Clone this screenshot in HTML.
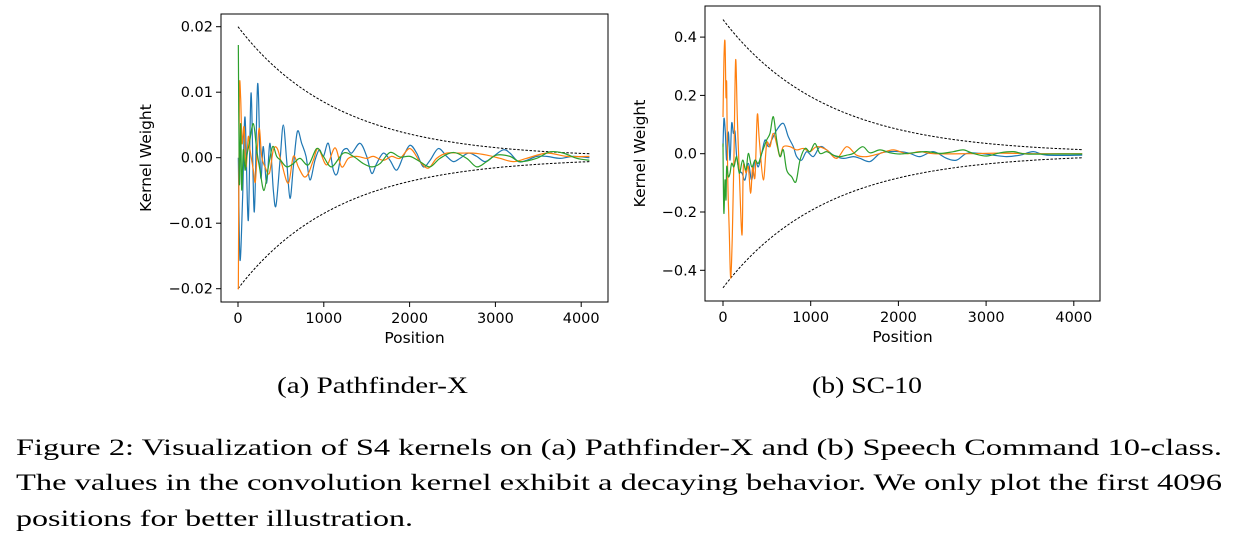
<!DOCTYPE html>
<html><head><meta charset="utf-8"><style>
html,body{margin:0;padding:0;background:#fff;}
svg{display:block;}
.tk{font-family:"DejaVu Sans","Liberation Sans",sans-serif;font-size:14.5px;fill:#000;}
.lb{font-family:"DejaVu Sans","Liberation Sans",sans-serif;font-size:15.5px;fill:#000;}
.cap{font-family:"Liberation Serif",serif;font-size:23px;fill:#000;}
</style></head><body>
<svg id="fig" width="1236" height="549" viewBox="0 0 1236 549">
<g id="pa"></g>
<g id="pb"></g>
<text class="cap" x="277" y="393" textLength="191" lengthAdjust="spacingAndGlyphs">(a) Pathfinder-X</text>
<text class="cap" x="812" y="393" textLength="110" lengthAdjust="spacingAndGlyphs">(b) SC-10</text>
<text class="cap" x="16" y="455" textLength="1206" lengthAdjust="spacingAndGlyphs">Figure 2:  Visualization of S4 kernels on (a) Pathfinder-X and (b) Speech Command 10-class.</text>
<text class="cap" x="16" y="490" textLength="1206" lengthAdjust="spacingAndGlyphs">The values in the convolution kernel exhibit a decaying behavior.  We only plot the first 4096</text>
<text class="cap" x="16" y="526" textLength="397" lengthAdjust="spacingAndGlyphs">positions for better illustration.</text>
</svg>
<script>
// ---- Chart A: Pathfinder-X (values in units of 1e-3) ----
const aXTicks = [0,1000,2000,3000,4000];
const aYTicks = [0.02,0.01,0.0,-0.01,-0.02];
const aYTickLabels = ["0.02","0.01","0.00","\u22120.01","\u22120.02"];
const aEnvAmp = 0.02, aEnvTau = 1170;
const aBlueX = [4,23,54,82,120,152,190,229,264,295,334,373,412,443,490,528,567,606,645,692,742,793,839,897,948,995,1053,1111,1158,1208,1267,1325,1422,1500,1558,1616,1694,1772,1849,1927,2005,2082,2160,2238,2335,2432,2510,2587,2685,2782,2879,2976,3092,3170,3267,3364,3481,3598,3753,3908,4096];
const aBlueY = [0,-15.6,-6.0,6.2,-9.6,9.9,-8.3,11.3,-2.9,1.7,-3.9,2.2,-5.0,-7.3,-0.4,5.0,-0.4,-6.2,-1.4,4.0,2.2,0.2,-3.4,-0.4,1.2,0.2,2.2,-1.9,-2.4,0.7,1.4,0.7,2.2,0.2,-2.4,-0.9,0.7,-0.4,-1.9,0.2,1.9,0.7,-1.4,-0.4,1.4,0.2,-0.6,-0.1,0.7,0.2,-0.6,0.2,1.2,0.7,-0.6,-0.4,0.2,0.2,-0.1,0.2,0];
const aOrangeX = [4,16,31,47,70,93,120,140,179,202,225,249,276,315,365,412,458,509,587,645,703,769,820,878,936,1033,1131,1208,1286,1383,1500,1577,1694,1791,1888,2005,2121,2218,2315,2432,2587,2743,2898,3053,3209,3364,3598,3831,4096];
const aOrangeY = [-20.1,9.4,9.1,2.2,4.7,-1.4,3.2,1.2,-1.9,-3.7,1.2,4.5,0.2,-1.4,-2.4,1.2,1.4,-0.9,-3.9,0.2,-1.4,-2.9,-2.4,-0.4,1.4,-1.1,1.5,-1.4,-0.1,0.2,-0.1,0.2,-0.4,0.2,-0.1,1.4,-0.6,-1.6,-0.1,0.7,0.7,0.7,0.4,-0.1,-0.6,-0.1,0.7,0.2,0.2];
const aGreenX = [4,16,31,43,62,82,101,132,179,218,256,303,354,404,451,497,567,645,723,820,917,995,1092,1228,1344,1461,1558,1655,1772,1888,2005,2121,2238,2354,2510,2665,2782,2898,3015,3170,3287,3481,3636,3792,3948,4096];
const aGreenY = [17.2,-3.9,5.2,-4.9,1.2,-1.9,0.2,2.2,5.2,1.2,-1.9,-5.0,-1.4,1.7,0.2,-0.4,-1.4,-0.9,-0.1,-1.1,1.4,0.2,-1.4,0.7,0.2,-0.9,-1.4,-0.9,0.8,0.1,0.2,-0.6,-1.4,-0.1,0.8,-0.1,-1.4,-0.6,0.4,0.2,-0.6,-0.1,0.9,0.7,-0.1,-0.4];

// ---- Chart B: SC-10 ----
const bXTicks = [0,1000,2000,3000,4000];
const bYTicks = [0.4,0.2,0.0,-0.2,-0.4];
const bYTickLabels = ["0.4","0.2","0.0","\u22120.2","\u22120.4"];
const bEnvAmp = 0.46, bEnvTau = 1170;
const bBlueX = [0,11,27,42,61,80,99,118,137,156,186,217,251,289,327,365,403,441,479,517,555,612,688,745,802,840,897,954,1030,1106,1182,1258,1372,1486,1562,1676,1790,1904,2018,2132,2246,2398,2550,2664,2778,2930,3082,3234,3386,3538,3690,4096];
const bBlueY = [0.024,0.121,0.070,-0.022,0.075,-0.022,0.104,0.070,0.075,-0.010,-0.056,-0.067,-0.090,-0.033,-0.090,-0.022,-0.045,0.001,0.047,0.024,0.047,0.081,0.104,0.058,0.024,-0.010,-0.022,0.007,-0.010,0.024,0.013,-0.005,-0.016,-0.010,-0.016,-0.027,0.001,0.007,0.007,0.001,-0.010,0.007,-0.016,-0.022,0.001,0.001,-0.005,-0.010,-0.005,0.007,-0.005,-0.005];
const bOrangeX = [0,11,23,34,42,53,72,87,106,125,144,163,186,217,232,262,289,315,338,365,391,414,460,498,536,574,619,650,688,764,840,916,992,1068,1182,1296,1410,1524,1638,1790,1942,2094,2246,2398,2778,3158,3538,4096];
const bOrangeY = [0.126,0.326,0.383,0.195,0.240,-0.067,-0.272,-0.427,-0.284,-0.010,0.321,0.126,-0.067,-0.279,-0.045,-0.067,-0.045,-0.136,-0.045,-0.079,0.133,0.047,-0.090,0.035,0.024,0.070,0.024,-0.010,0.024,0.024,0.013,0.018,0.007,0.024,0.013,-0.016,0.024,-0.005,-0.010,0.001,0.013,0,0.007,0,0,0.002,0,0];
const bGreenX = [0,4,11,23,34,42,61,80,99,125,156,186,224,262,289,327,365,403,441,498,536,574,612,650,688,726,783,832,878,935,992,1049,1106,1182,1258,1334,1410,1486,1592,1676,1790,1904,2018,2170,2322,2474,2626,2740,2854,3006,3158,3310,3462,3842,4096];
const bGreenY = [0.035,-0.102,-0.205,-0.090,-0.159,-0.045,-0.079,-0.067,-0.033,-0.045,-0.010,-0.067,-0.022,-0.056,0.001,-0.045,-0.022,-0.033,0.001,0.047,0.070,0.127,0.047,-0.010,0.013,-0.056,-0.079,-0.096,-0.022,0.018,0.007,0.035,0.001,0.007,-0.005,-0.010,-0.005,0.001,0.024,0.003,0.013,0.003,-0.001,0.003,0.007,0.001,0.007,0.013,0.001,-0.008,0.003,0.007,-0.001,-0.001,-0.001];

const NS = "http://www.w3.org/2000/svg";
function mk(parent, tag, attrs){
  const e = document.createElementNS(NS, tag);
  for (const k in attrs) e.setAttribute(k, attrs[k]);
  parent.appendChild(e);
  return e;
}
function smooth(pts){
  let d = "M" + pts[0][0].toFixed(2) + "," + pts[0][1].toFixed(2);
  for (let i=0;i<pts.length-1;i++){
    const p0 = pts[Math.max(0,i-1)], p1 = pts[i], p2 = pts[i+1], p3 = pts[Math.min(pts.length-1,i+2)];
    const c1x = p1[0]+(p2[0]-p0[0])/6, c1y = p1[1]+(p2[1]-p0[1])/6;
    const c2x = p2[0]-(p3[0]-p1[0])/6, c2y = p2[1]-(p3[1]-p1[1])/6;
    d += " C"+c1x.toFixed(2)+","+c1y.toFixed(2)+" "+c2x.toFixed(2)+","+c2y.toFixed(2)+" "+p2[0].toFixed(2)+","+p2[1].toFixed(2);
  }
  return d;
}
function drawChart(g, cfg){
  const sx = v => cfg.x0 + v*cfg.kx;
  const sy = v => cfg.y0 - v*cfg.ky;
  for (const s of [1,-1]){
    const pts=[];
    for (let t=0;t<=4096;t+=32) pts.push([sx(t), sy(s*cfg.amp*Math.exp(-t/cfg.tau))]);
    const e = mk(g,"path",{d:smooth(pts),fill:"none",stroke:"#000","stroke-width":"1","stroke-dasharray":"2.5,1.6"});
    
    
  }
  const series = [["kernel-blue","#1f77b4",cfg.bx,cfg.by],["kernel-orange","#ff7f0e",cfg.ox,cfg.oy],["kernel-green","#2ca02c",cfg.gx,cfg.gy]];
  for (const [name,col,xs,ys] of series){
    const pts = xs.map((x,i)=>[sx(x), sy(ys[i]*cfg.scale)]);
    const e = mk(g,"path",{d:smooth(pts),fill:"none",stroke:col,"stroke-width":"1.2"});
    
    
  }
  const fr = mk(g,"rect",{x:cfg.L,y:cfg.T,width:cfg.R-cfg.L,height:cfg.B-cfg.T,fill:"none",stroke:"#000","stroke-width":"1"});
  
  
  cfg.xt.forEach(v=>{
    mk(g,"line",{x1:sx(v),x2:sx(v),y1:cfg.B,y2:cfg.B+5,stroke:"#000"});
    const t = mk(g,"text",{class:"tk",x:sx(v),y:cfg.B+21,"text-anchor":"middle"});
    t.textContent = String(v);
    
    
  });
  cfg.yt.forEach((v,i)=>{
    mk(g,"line",{x1:cfg.L-5,x2:cfg.L,y1:sy(v),y2:sy(v),stroke:"#000"});
    const t = mk(g,"text",{class:"tk",x:cfg.L-8,y:sy(v)+5,"text-anchor":"end"});
    t.textContent = cfg.ytl[i];
    
    
  });
  const xl = mk(g,"text",{class:"lb",x:(cfg.L+cfg.R)/2,y:cfg.B+41,"text-anchor":"middle"});
  xl.textContent = "Position";
  
  
  const yl = mk(g,"text",{class:"lb",x:0,y:0,"text-anchor":"middle",transform:"translate("+cfg.ylx+","+((cfg.T+cfg.B)/2)+") rotate(-90)"});
  yl.textContent = "Kernel Weight";
  
  
}
drawChart(document.getElementById("pa"),{L:221,R:608,T:14,B:302,x0:238,kx:0.0858,y0:157.7,ky:6550,amp:aEnvAmp,tau:aEnvTau,scale:0.001,
  bx:aBlueX,by:aBlueY,ox:aOrangeX,oy:aOrangeY,gx:aGreenX,gy:aGreenY,xt:aXTicks,yt:aYTicks,ytl:aYTickLabels,ylx:151});
drawChart(document.getElementById("pb"),{L:705,R:1100,T:6,B:301,x0:723,kx:0.0877,y0:153.7,ky:291.5,amp:bEnvAmp,tau:bEnvTau,scale:1,
  bx:bBlueX,by:bBlueY,ox:bOrangeX,oy:bOrangeY,gx:bGreenX,gy:bGreenY,xt:bXTicks,yt:bYTicks,ytl:bYTickLabels,ylx:645});
</script>
</body></html>
